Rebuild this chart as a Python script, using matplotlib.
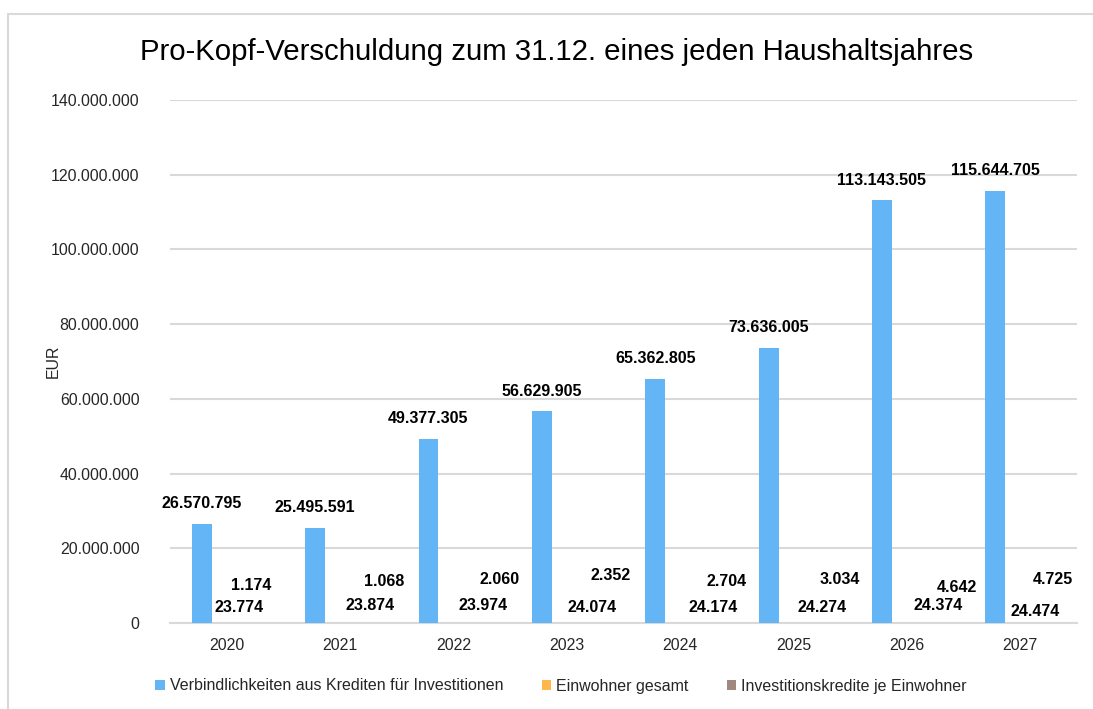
import matplotlib.pyplot as plt
import numpy as np
from matplotlib.patches import Rectangle
from matplotlib.ticker import FuncFormatter

# data
years = ["2020", "2021", "2022", "2023", "2024", "2025", "2026", "2027"]
kredite = [26570795, 25495591, 49377305, 56629905, 65362805, 73636005, 113143505, 115644705]
einwohner = [23774, 23874, 23974, 24074, 24174, 24274, 24374, 24474]
je_einwohner = [1174, 1068, 2060, 2352, 2704, 3034, 4642, 4725]

series_names = ["Verbindlichkeiten aus Krediten für Investitionen",
                "Einwohner gesamt",
                "Investitionskredite je Einwohner"]
colors = ["#64B5F6", "#FFB74D", "#A1887F"]

# hand placed label offsets (pixels, from category centre / zero line)
ew_dx = [12, 30, 30, 25, 33, 29, 31, 15]
ew_dy = [15, 17, 17, 15, 15, 15, 17, 12]
je_dx = [25, 44, 46, 44, 46, 46, 50, 33]
je_dy = [38, 41, 44, 48, 41, 44, 36, 44]


def de(v):
    return f"{v:,.0f}".replace(",", ".")


plt.rcParams['font.family'] = ['Liberation Sans', 'DejaVu Sans']

fig = plt.figure(figsize=(10.93, 7.09), dpi=100)
ax = fig.add_axes([170 / 1093, 1 - 623 / 709, 907 / 1093, 523 / 709])

x = np.arange(len(years))
w = 0.176
off = 0.22
ax.bar(x - off, kredite, w, color=colors[0], label=series_names[0], zorder=3)
ax.bar(x, einwohner, w, color=colors[1], label=series_names[1], zorder=3)
ax.bar(x + off, je_einwohner, w, color=colors[2], label=series_names[2], zorder=3)

lbl = dict(fontsize=11.5, fontweight="bold", color="black", ha="center", va="center",
           textcoords="offset pixels")
for i in range(len(years)):
    ax.annotate(de(kredite[i]), (x[i] - off, kredite[i]), xytext=(0, 20), **lbl)
    ax.annotate(de(einwohner[i]), (x[i], 0), xytext=(ew_dx[i], ew_dy[i]), **lbl)
    ax.annotate(de(je_einwohner[i]), (x[i], 0), xytext=(je_dx[i], je_dy[i]), **lbl)

ax.set_xlim(-0.5, 7.5)
ax.set_ylim(0, 140000000)
ax.set_yticks(np.arange(0, 140000001, 20000000))
ax.yaxis.set_major_formatter(FuncFormatter(lambda v, p: de(v)))
ax.set_xticks(x)
ax.set_xticklabels(years)
ax.tick_params(axis="both", length=0, labelsize=11.4, colors="#262626")
ax.tick_params(axis="x", pad=11)
ax.tick_params(axis="y", pad=22)
ax.grid(axis="y", color="#D9D9D9", linewidth=1.5, zorder=0)
for s in ["top", "right", "left"]:
    ax.spines[s].set_visible(False)
ax.spines["bottom"].set_color("#D9D9D9")
ax.spines["bottom"].set_linewidth(1.5)

ax.set_ylabel("EUR", fontsize=11.4, color="#262626", labelpad=-7)
fig.text(557 / 1093, 1 - 52 / 709, "Pro-Kopf-Verschuldung zum 31.12. eines jeden Haushaltsjahres",
         fontsize=21.2, ha="center", va="center", color="black")

fig.legend(loc="center", bbox_to_anchor=(561 / 1093, 1 - 686 / 709), ncol=3, frameon=False,
           fontsize=11.5, handlelength=0.6, handleheight=0.6, handletextpad=0.3,
           columnspacing=2.4, labelcolor="#262626")

fig.add_artist(Rectangle((8 / 1093, -0.1), 1.2, 1 - 14 / 709 + 0.1, transform=fig.transFigure,
                         fill=False, edgecolor="#D9D9D9", linewidth=1.5))

plt.savefig("out.png", dpi=100)
